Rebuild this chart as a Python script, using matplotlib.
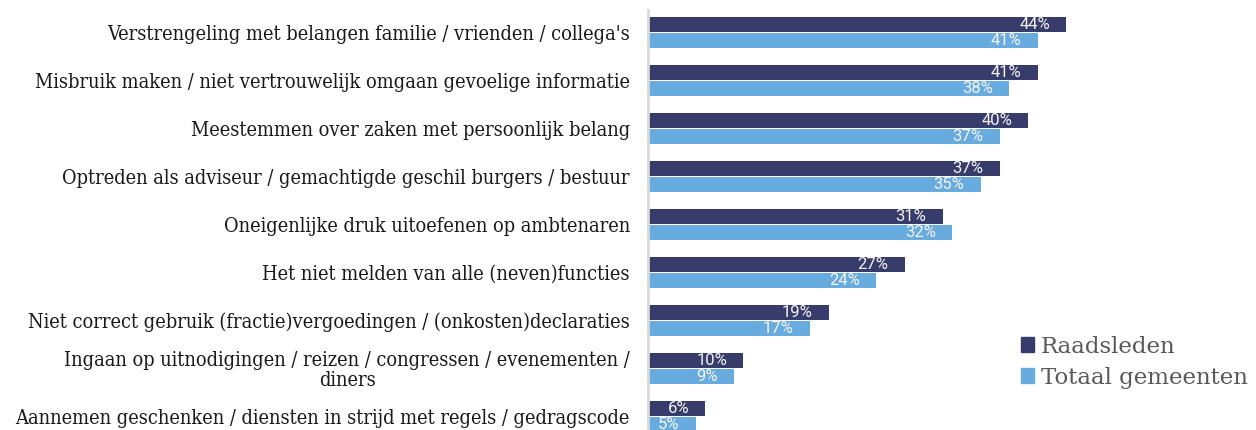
import matplotlib.pyplot as plt
from matplotlib.patches import Patch
import numpy as np

categories = [
    "Verstrengeling met belangen familie / vrienden / collega's",
    "Misbruik maken / niet vertrouwelijk omgaan gevoelige informatie",
    "Meestemmen over zaken met persoonlijk belang",
    "Optreden als adviseur / gemachtigde geschil burgers / bestuur",
    "Oneigenlijke druk uitoefenen op ambtenaren",
    "Het niet melden van alle (neven)functies",
    "Niet correct gebruik (fractie)vergoedingen / (onkosten)declaraties",
    "Ingaan op uitnodigingen / reizen / congressen / evenementen /\ndiners",
    "Aannemen geschenken / diensten in strijd met regels / gedragscode",
]
raadsleden = [44, 41, 40, 37, 31, 27, 19, 10, 6]
totaal = [41, 38, 37, 35, 32, 24, 17, 9, 5]
series_names = ["Raadsleden", "Totaal gemeenten"]

dark = "#383c6a"
light = "#68abde"
label_font = dict(family="DejaVu Serif", stretch="condensed")

fig = plt.figure(figsize=(12.56, 4.30), dpi=100)
px_w, px_h = 1256, 430
left, right = 648, 648 + 50 * 9.5
top_px, bot_px = 10, 430
ax = fig.add_axes([left / px_w, 1 - bot_px / px_h, (right - left) / px_w, (bot_px - top_px) / px_h])

y = np.arange(len(categories))
h = 0.333
b1 = ax.barh(y - h / 2, raadsleden, height=h - 0.01, color=dark)
b2 = ax.barh(y + h / 2, totaal, height=h - 0.01, color=light)

# percentage labels inside the bar ends
for bars, vals in ((b1, raadsleden), (b2, totaal)):
    for bar, v in zip(bars, vals):
        ax.annotate(f"{v}%", (v, bar.get_y() + bar.get_height() / 2),
                    xytext=(-11.5, 0), textcoords="offset points",
                    ha="right", va="center", color="#f4f4f4",
                    fontsize=12, family="Roboto")

ax.set_xlim(0, 50)
ax.set_ylim((430 - 32.5) / 48, (10 - 32.5) / 48)
ax.set_yticks(y)
ax.set_yticklabels(categories, fontsize=14.3, color="#1a1a1a", multialignment="center",
                   linespacing=1.05, **label_font)
ax.tick_params(axis="y", length=0, pad=13)
ax.set_xticks([])
for s in ("top", "right", "bottom"):
    ax.spines[s].set_visible(False)
ax.spines["left"].set_color("#d9d9d9")
ax.spines["left"].set_linewidth(2)

handles = [Patch(color=dark), Patch(color=light)]
fig.legend(handles, series_names, loc="upper left", bbox_to_anchor=(1000 / px_w, 1 - 315 / px_h),
           frameon=False, labelcolor="#595959", handlelength=0.6, handleheight=0.6,
           handletextpad=0.3, labelspacing=0.4, prop=dict(family="DejaVu Serif", size=16.5))

fig.savefig("out.png", dpi=100)
